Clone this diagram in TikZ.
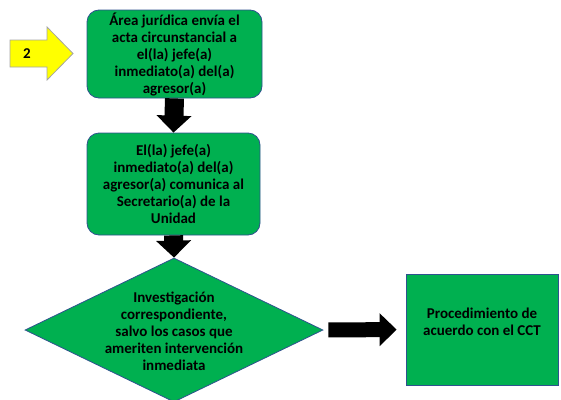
\documentclass[tikz,border=0pt]{standalone}
\usepackage{fontspec}
\setmainfont{Carlito}
\usetikzlibrary{shapes.geometric,arrows.meta}
\definecolor{boxgreen}{HTML}{00B050}
\definecolor{boxline}{HTML}{2F528F}
\definecolor{arrowyellow}{HTML}{FFFF00}
\definecolor{arrowline}{HTML}{A5A5A5}
\begin{document}
\begin{tikzpicture}[x=1pt,y=-1pt,
  flow/.style={fill=boxgreen,draw=boxline,line width=0.8pt},
  txt/.style={align=center,font=\bfseries\fontsize{15}{17}\selectfont,text=black,inner sep=0pt},
  blockdown/.style={line width=19pt,-{Triangle[width=34pt,length=17pt]},draw=black},
  blockright/.style={line width=15pt,-{Triangle[width=32pt,length=17pt]},draw=black}
]
\useasboundingbox (0,0) rectangle (561,399);

% yellow marker arrow
\draw[fill=arrowyellow,draw=arrowline,line width=0.8pt]
  (10,40) -- (47,40) -- (47,27) -- (73,53.5) -- (47,80) -- (47,67) -- (10,67) -- cycle;
\node[txt] (n2) at (27,53.5) {2};

% boxes
\node[flow,txt,rounded corners=12pt,minimum width=175pt,minimum height=88pt] (b1) at (174.5,54)
  {Área jurídica envía el\\acta circunstancial a\\el(la) jefe(a)\\inmediato(a) del(a)\\agresor(a)};
\node[flow,txt,rounded corners=12pt,minimum width=173pt,minimum height=102pt] (b2) at (173.5,184)
  {El(la) jefe(a)\\inmediato(a) del(a)\\agresor(a) comunica al\\Secretario(a) de la\\Unidad};
\node[flow,diamond,minimum width=298pt,minimum height=144pt,inner sep=0pt] (d) at (174,330) {};
\node[txt] (dt) at (174,331)
  {Investigación\\correspondiente,\\salvo los casos que\\ameriten intervención\\inmediata};
\node[flow,minimum width=152pt,minimum height=111pt] (b3) at (482,329.5) {};
\node[txt] (b3t) at ([yshift=8pt]b3.center) {Procedimiento de\\acuerdo con el CCT};

% connectors
\draw[blockdown] (b1.south) -- (b2.north);
\draw[blockdown] (b2.south) -- (d.north);
\draw[blockright,shorten <=5pt,shorten >=9pt] (d.east) -- (b3.west);
\end{tikzpicture}
\end{document}
